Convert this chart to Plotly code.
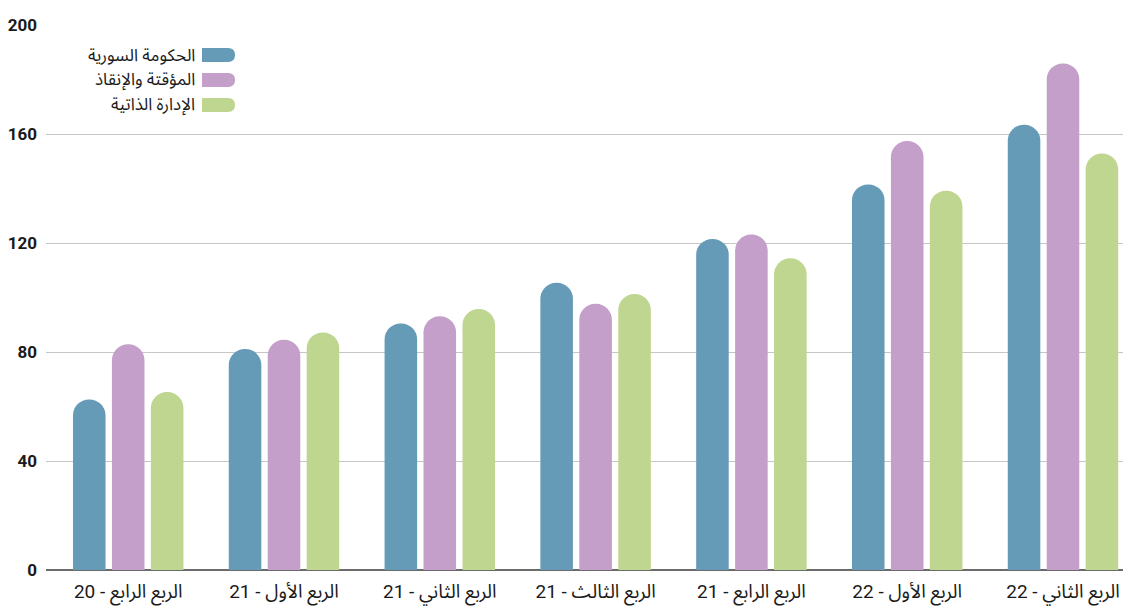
import plotly.graph_objects as go

categories = ["الربع الرابع - 20", "الربع الأول - 21", "الربع الثاني - 21", "الربع الثالث - 21",
              "الربع الرابع - 21", "الربع الأول - 22", "الربع الثاني - 22"]
series_names = ["الحكومة السورية", "المؤقتة والإنقاذ", "الإدارة الذاتية"]
syrian_gov = [62.6, 81.1, 90.5, 105.4, 121.5, 141.5, 163.4]
interim_salvation = [82.8, 84.5, 93.1, 97.7, 123.1, 157.4, 185.9]
self_admin = [65.3, 87.2, 95.8, 101.3, 114.4, 139.2, 152.8]
y_ticks = [0, 40, 80, 120, 160, 200]

colors = ["#659BB7", "#C49FC9", "#BFD691"]
values = [syrian_gov, interim_salvation, self_admin]

fig = go.Figure()
for name, vals, col in zip(series_names, values, colors):
    fig.add_trace(go.Bar(
        x=categories, y=vals, name=name,
        marker=dict(color=col, cornerradius="50%", line=dict(width=0)),
        showlegend=False, hoverinfo="skip",
    ))

font_family = "Roboto, 'Noto Sans Arabic', 'DejaVu Sans', sans-serif"

# page has an 8px body margin; plot area spans page x 46..1139, y 25..570
PL, PR, PT, PB = 46, 1139, 25, 570
PW, PH = PR - PL, PB - PT


def px(x):
    return (x - PL) / PW


def py(y):
    return (PB - y) / PH


# custom RTL legend (text left of swatch)
legend_y = [55, 80, 105]
for name, col, yc in zip(series_names, colors, legend_y):
    x0, x1 = px(202), px(235)
    r = 7 / PW
    yt, yb, ym = py(yc - 7), py(yc + 7), py(yc)
    fig.add_shape(
        type="path", xref="paper", yref="paper",
        path=(f"M {x0},{yb} L {x1 - r},{yb} "
              f"Q {x1},{yb} {x1},{ym} Q {x1},{yt} {x1 - r},{yt} "
              f"L {x0},{yt} Z"),
        fillcolor=col, line=dict(width=0), layer="above",
    )
    fig.add_annotation(
        xref="paper", yref="paper", x=px(197), y=ym, xanchor="right", yanchor="middle",
        text=name, showarrow=False, font=dict(size=17, color="#1a1a1a", family=font_family),
    )

fig.update_layout(
    width=1131, height=608,
    margin=dict(l=PL - 8, r=0, t=PT - 8, b=608 + 8 - PB, autoexpand=False),
    paper_bgcolor="white", plot_bgcolor="white",
    barmode="group", bargap=0.25, bargroupgap=0.164,
    font=dict(family=font_family, color="#1a1a1a"),
    xaxis=dict(
        range=[-(128.2 - PL) / 155.8, (PR - 128.2) / 155.8], showgrid=False, showline=False, ticks="",
        tickfont=dict(size=19, color="#1a1a1a"), ticklabelstandoff=8,
    ),
    yaxis=dict(
        range=[0, 200], tickvals=y_ticks, showgrid=True, gridcolor="#C6C6C6", gridwidth=1,
        zeroline=True, zerolinecolor="#6B6B6B", zerolinewidth=2, showline=False, ticks="",
        tickfont=dict(size=17, color="#1a1a1a", weight="bold"), ticklabelstandoff=8,
    ),
)

fig.write_html("out.html")
